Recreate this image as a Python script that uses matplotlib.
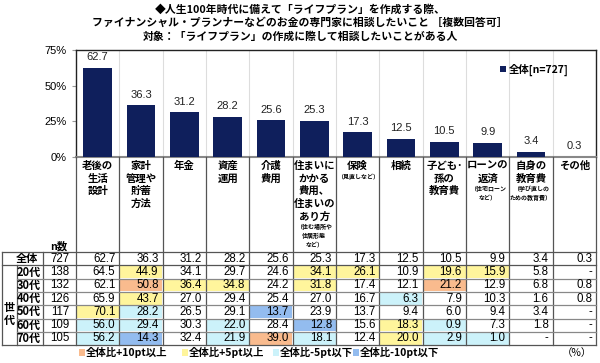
import numpy as np
import matplotlib
matplotlib.use("Agg")
import matplotlib.pyplot as plt
from matplotlib.patches import Rectangle

plt.rcParams["font.family"] = ["Noto Sans CJK JP", "DejaVu Sans"]

# categories shown as column headers (main label lines, small note lines)
cat_labels = [
    ["老後の", "生活", "設計"],
    ["家計", "管理や", "貯蓄", "方法"],
    ["年金"],
    ["資産", "運用"],
    ["介護", "費用"],
    ["住まいに", "かかる", "費用、", "住まいの", "あり方"],
    ["保険"],
    ["相続"],
    ["子ども･", "孫の", "教育費"],
    ["ローンの", "返済"],
    ["自身の", "教育費"],
    ["その他"],
]
cat_notes = [
    [], [], [], [], [],
    ["（住む場所や", "住居形態", "など）"],
    ["（見直しなど）"],
    [],
    [],
    ["（住宅ローン", "など）"],
    ["（学び直しの", "ための教育費）"],
    [],
]

total = [62.7, 36.3, 31.2, 28.2, 25.6, 25.3, 17.3, 12.5, 10.5, 9.9, 3.4, 0.3]

row_names = ["全体", "20代", "30代", "40代", "50代", "60代", "70代"]
row_n = [727, 138, 132, 126, 117, 109, 105]
nan = np.nan
table = [
    total,
    [64.5, 44.9, 34.1, 29.7, 24.6, 34.1, 26.1, 10.9, 19.6, 15.9, 5.8, nan],
    [62.1, 50.8, 36.4, 34.8, 24.2, 31.8, 17.4, 12.1, 21.2, 12.9, 6.8, 0.8],
    [65.9, 43.7, 27.0, 29.4, 25.4, 27.0, 16.7, 6.3, 7.9, 10.3, 1.6, 0.8],
    [70.1, 28.2, 26.5, 29.1, 13.7, 23.9, 13.7, 9.4, 6.0, 9.4, 3.4, nan],
    [56.0, 29.4, 30.3, 22.0, 28.4, 12.8, 15.6, 18.3, 0.9, 7.3, 1.8, nan],
    [56.2, 14.3, 32.4, 21.9, 39.0, 18.1, 12.4, 20.0, 2.9, 1.0, nan, nan],
]

NAVY = "#0f1f5c"
C_P10 = "#f9bb8e"
C_P5 = "#fff59c"
C_M5 = "#ccf2fa"
C_M10 = "#93bcef"

W, H = 600, 363
fig = plt.figure(figsize=(W / 100, H / 100), dpi=100)

# layout in pixels
left, right = 76, 596
top_plot, base = 50, 157
hdr_bottom = 252
row_h = 13.3
ncol = len(total)
cw = (right - left) / ncol

# ---- bar chart
ax = fig.add_axes([left / W, 1 - base / H, (right - left) / W, (base - top_plot) / H])
x = np.arange(ncol)
ax.bar(x, total, width=0.66, color=NAVY, zorder=3, label="全体[n=727]")
for xi, v in zip(x, total):
    ax.text(xi, v + 4, f"{v:.1f}", ha="center", va="bottom", fontsize=8,
            family=["Liberation Sans"], color="#222222")
ax.set_xlim(-0.5, ncol - 0.5)
ax.set_ylim(0, 75)
ax.set_yticks([0, 25, 50, 75])
ax.set_yticklabels(["0%", "25%", "50%", "75%"], fontsize=8, family=["Liberation Sans"])
ax.set_xticks([])
ax.tick_params(axis="y", length=3, color="#999999", pad=4)
for xi in x[:-1]:
    ax.axvline(xi + 0.5, color="#dddddd", lw=0.8, zorder=1)
for s in ["left", "top", "right"]:
    ax.spines[s].set_color("#222222")
    ax.spines[s].set_linewidth(1.0)
ax.spines["bottom"].set_color("#888888")
ax.spines["bottom"].set_linewidth(1.5)
leg = ax.legend(loc="upper right", bbox_to_anchor=(0.965, 0.96), frameon=False,
                handlelength=0.6, handleheight=0.6, handletextpad=0.2,
                prop={"size": 7.5, "weight": "bold"})

# ---- overlay for titles, headers and table
ov = fig.add_axes([0, 0, 1, 1])
ov.set_xlim(0, W)
ov.set_ylim(H, 0)
ov.axis("off")

title = ["◆人生100年時代に備えて「ライフプラン」を作成する際、",
         "ファイナンシャル・プランナーなどのお金の専門家に相談したいこと ［複数回答可］",
         "対象：「ライフプラン」の作成に際して相談したいことがある人"]
for i, t in enumerate(title):
    ov.text(300, 9 + i * 13.5, t, ha="center", va="center", fontsize=7.8, fontweight="bold")

# category header labels
for i in range(ncol):
    cx = left + cw * (i + 0.5)
    y = 166
    for line in cat_labels[i]:
        ov.text(cx, y, line, ha="center", va="center", fontsize=7.5, fontweight="bold")
        y += 12.6
    y -= 2.5
    for line in cat_notes[i]:
        ov.text(cx, y, line, ha="center", va="center", fontsize=4.3, fontweight="bold")
        y += 9

ov.text(59, 246, "n数", ha="center", va="center", fontsize=7.5, fontweight="bold")

# vertical separators in header and table
for i in range(ncol + 1):
    xx = left + cw * i
    ov.plot([xx, xx], [base, hdr_bottom + row_h * 7], color="#555555", lw=0.9)

tab_bottom = hdr_bottom + row_h * 7
# left part lines
ov.plot([2, 2], [hdr_bottom, tab_bottom], color="#555555", lw=0.9)
ov.plot([43, 43], [hdr_bottom, tab_bottom], color="#555555", lw=0.9)
ov.plot([17, 17], [hdr_bottom + row_h, tab_bottom], color="#555555", lw=0.9)

# table cells
for r in range(7):
    y0 = hdr_bottom + row_h * r
    yc = y0 + row_h / 2
    for c in range(ncol):
        v = table[r][c]
        x0 = left + cw * c
        if r > 0 and not np.isnan(v):
            d = v - total[c]
            col = None
            if d >= 10:
                col = C_P10
            elif d >= 5:
                col = C_P5
            elif d <= -10:
                col = C_M10
            elif d <= -5:
                col = C_M5
            if col:
                ov.add_patch(Rectangle((x0 + 0.5, y0 + 0.5), cw - 1, row_h - 1,
                                       facecolor=col, edgecolor="none", zorder=0))
        txt = "-" if np.isnan(v) else f"{v:.1f}"
        ov.text(x0 + cw - 4, yc, txt, ha="right", va="center", fontsize=8.3,
                family=["Liberation Sans"])
    ov.text(60, yc, str(row_n[r]), ha="center", va="center", fontsize=8.3,
            family=["Liberation Sans"])
    ov.text(27 if r == 0 else 29, yc, row_names[r], ha="center", va="center",
            fontsize=8, fontweight="bold")
    lx = 2 if r <= 1 else 17
    ov.plot([lx, right], [y0, y0], color="#555555" if r <= 1 else "#888888", lw=0.9)
ov.plot([2, right], [tab_bottom, tab_bottom], color="#555555", lw=0.9)

ov.text(9, 307, "世", ha="center", va="center", fontsize=8, fontweight="bold")
ov.text(9, 320, "代", ha="center", va="center", fontsize=8, fontweight="bold")

# colour legend below table
legend_items = [(C_P10, "全体比+10pt以上", 79), (C_P5, "全体比+5pt以上", 182),
                (C_M5, "全体比-5pt以下", 273), (C_M10, "全体比-10pt以下", 353)]
for col, lab, lx in legend_items:
    ov.add_patch(Rectangle((lx, 349), 6, 7, facecolor=col, edgecolor="none"))
    ov.text(lx + 7, 353, lab, ha="left", va="center", fontsize=7.5, fontweight="bold")
ov.text(592, 353, "（%）", ha="right", va="center", fontsize=7.5)

fig.savefig("out.png", dpi=100)
